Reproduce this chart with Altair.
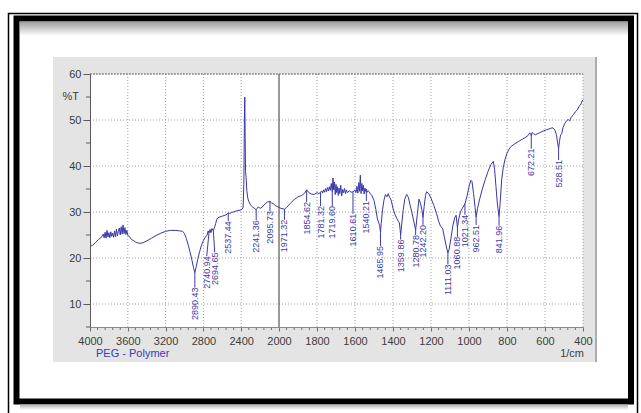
import altair as alt
import pandas as pd

# plot area size in pixels
W, H = 493, 253

# FTIR spectrum of PEG (wavenumber in 1/cm, transmittance in %T)
wavenumber = [
    4000, 3970, 3940, 3910, 3880, 3860, 3850, 3840, 3830, 3820, 3810, 3800,
    3790, 3780, 3770, 3760, 3750, 3740, 3730, 3720, 3710, 3700, 3690, 3680,
    3670, 3660, 3650, 3640, 3630, 3620, 3610, 3600, 3580, 3560, 3540, 3520,
    3500, 3470, 3440, 3400, 3350, 3300, 3250, 3200, 3150, 3100, 3050, 3020,
    3000, 2980, 2960, 2940, 2920, 2905, 2890.43, 2875, 2860, 2840, 2820, 2800,
    2780, 2760, 2750, 2740.94, 2730, 2720, 2710, 2694.65, 2680, 2670, 2660,
    2650, 2630, 2600, 2570, 2550, 2537.44, 2520, 2500, 2470, 2440, 2410, 2390,
    2380, 2372, 2366, 2362, 2358, 2354, 2348, 2340, 2330, 2320, 2300, 2280,
    2260, 2241.36, 2220, 2200, 2180, 2160, 2140, 2120, 2095.73, 2080, 2060,
    2040, 2020, 2000,
    1990, 1971.32, 1960, 1940, 1920, 1900, 1880, 1865, 1854.62, 1845, 1830,
    1815, 1800, 1790, 1781.32, 1775, 1770, 1765, 1760, 1755, 1750, 1745, 1740,
    1735, 1730, 1725, 1719.60, 1716, 1712, 1708, 1704, 1700, 1696, 1692, 1688,
    1684, 1680, 1675, 1670, 1665, 1660, 1655, 1650, 1645, 1640, 1630, 1620,
    1610.61, 1600, 1595, 1590, 1585, 1580, 1576, 1572, 1568, 1564, 1560, 1556,
    1552, 1548, 1544, 1540.21, 1535, 1530, 1525, 1520, 1510, 1500, 1490, 1482,
    1476, 1470, 1465.95, 1462, 1455, 1448, 1440, 1432, 1425, 1418, 1410, 1400,
    1390, 1380, 1372, 1366, 1359.86, 1353, 1346, 1338, 1328, 1319, 1310, 1300,
    1290, 1280.78, 1272, 1263, 1255, 1248, 1242.20, 1236, 1229, 1223, 1212,
    1200, 1185, 1170, 1160, 1150, 1144, 1138, 1130, 1120, 1111.03, 1105, 1095,
    1085, 1075, 1068, 1063, 1060.88, 1055, 1045, 1035, 1021.34, 1010, 1000,
    990, 984, 976, 968, 962.51, 955, 945, 930, 915, 900, 885, 872, 865, 858,
    850, 841.96, 836, 828, 820, 810, 800, 790, 780, 760, 740, 720, 700, 690,
    680, 675, 672.21, 668, 660, 650, 630, 610, 590, 570, 558, 548, 540, 534,
    528.51, 524, 518, 512, 505, 495, 485, 478, 470, 462, 450, 440, 430, 420,
    410, 405, 400,
]
transmittance = [
    22.5, 22.8, 23.4, 24.0, 24.5, 25.2, 24.4, 25.6, 24.3, 26.0, 24.6, 25.5,
    24.4, 25.7, 24.7, 25.4, 24.5, 25.9, 24.6, 26.3, 24.8, 25.8, 26.5, 25.0,
    26.8, 25.2, 27.2, 25.3, 26.6, 25.1, 26.0, 24.9, 24.6, 24.0, 23.8, 23.5,
    23.3, 23.2, 23.3, 23.7, 24.3, 24.9, 25.4, 25.8, 26.0, 26.0, 25.9, 25.8,
    25.3, 24.2, 22.8, 21.2, 19.4, 17.9, 16.8, 18.2, 19.7, 21.4, 22.8, 23.8,
    24.5, 25.0, 25.9, 25.4, 26.2, 25.5, 26.4, 25.9, 26.8, 27.5, 28.3,
    28.7, 28.9, 29.1, 29.3, 29.5, 29.8, 29.7, 29.9, 30.1, 30.3, 30.4, 30.6,
    31.0, 36.0, 50.0, 55.0, 46.0, 38.8, 37.5, 34.5, 33.0, 32.3, 31.5, 31.1,
    30.8, 30.5, 31.1, 30.8, 31.0, 31.5, 31.9, 32.2, 32.3, 32.0, 31.8,
    31.4, 31.2, 31.0,
    30.8, 30.6, 31.0, 31.9, 32.7, 33.3, 33.6, 34.1, 34.8, 34.3, 33.9,
    33.8, 34.2, 34.0, 34.3, 34.6, 34.1, 34.8, 34.3, 35.1, 34.4, 35.3, 34.6,
    35.5, 34.7, 36.2, 34.4, 37.4, 34.8, 36.5, 33.8, 36.0, 34.2, 35.5, 33.6,
    35.2, 34.0, 35.8, 33.5, 34.9, 34.2, 35.1, 34.0, 34.8, 34.2, 34.6, 34.3,
    34.4, 34.8, 34.2, 35.6, 34.1, 36.4, 34.5, 38.0, 34.0, 36.2, 34.6, 35.8,
    33.9, 35.2, 34.5, 35.0, 34.3, 34.6, 34.4, 34.0, 33.5, 32.5, 30.5, 28.5,
    27.8, 27.0, 25.6, 27.5, 30.5, 32.5, 33.8, 33.3, 34.0, 33.2, 32.6, 30.8,
    29.5, 28.6, 28.0, 27.6, 25.0, 27.8, 30.5, 32.8, 33.8, 33.2, 31.5, 29.8,
    27.8, 26.1, 29.5, 32.8, 31.8, 30.5, 28.8, 31.2, 33.6, 34.4, 34.0,
    33.0, 31.4, 29.6, 28.0, 26.9, 26.7, 26.3, 24.6, 22.6, 21.1, 21.8, 24.3,
    27.0, 28.8, 29.3, 27.5, 26.6, 28.3, 30.0, 30.8, 31.8, 33.5, 35.5,
    36.9, 36.6, 34.0, 31.0, 28.9, 30.8, 32.6, 35.0, 37.0, 38.8, 40.3, 41.0, 39.2, 35.5,
    31.5, 29.0, 32.0, 37.0, 39.6, 41.5, 42.8, 43.6, 44.2, 44.8, 45.3, 45.8, 46.3, 46.6,
    47.2, 47.0, 46.5, 47.3, 47.0, 46.8, 47.2, 47.6, 47.9, 48.2, 48.3, 47.8, 46.8, 45.2,
    43.8, 45.3, 46.8, 47.0, 48.4, 49.3, 49.9, 50.1, 49.8, 50.6, 51.2, 51.8, 52.2, 53.0,
    53.5, 54.1, 54.4,
]

# labelled bands: text, band position, %T at the band, label anchor position and top
peak_text = [
    "2890.43", "2740.94", "2694.65", "2537.44", "2241.36", "2095.73", "1971.32",
    "1854.62", "1781.32", "1719.60", "1610.61", "1540.21", "1465.95", "1359.86",
    "1280.78", "1242.20", "1111.03", "1060.88", "1021.34", "962.51", "841.96",
    "672.21", "528.51",
]
peak_wn = [
    2890.43, 2740.94, 2694.65, 2537.44, 2241.36, 2095.73, 1971.32,
    1854.62, 1781.32, 1719.60, 1610.61, 1540.21, 1465.95, 1359.86,
    1280.78, 1242.20, 1111.03, 1060.88, 1021.34, 962.51, 841.96,
    672.21, 528.51,
]
peak_t = [
    16.8, 25.4, 25.9, 29.8, 30.5, 32.3, 30.6,
    34.8, 34.3, 34.4, 34.4, 35.0, 25.6, 25.0,
    26.1, 28.8, 21.1, 26.6, 31.8, 28.9, 29.0,
    46.5, 43.8,
]
label_wn = [
    2890.43, 2765, 2680, 2537.44, 2241.36, 2095.73, 1971.32,
    1854.62, 1781.32, 1719.60, 1610.61, 1540.21, 1465.95, 1359.86,
    1280.78, 1242.20, 1111.03, 1060.88, 1021.34, 962.51, 841.96,
    672.21, 528.51,
]
label_top = [
    13.6, 20.4, 21.2, 28.0, 28.2, 30.2, 28.3,
    32.2, 31.3, 31.3, 29.6, 32.4, 22.6, 24.0,
    25.0, 27.2, 18.6, 24.6, 29.4, 27.2, 27.0,
    43.8, 41.3,
]

major_x = [4000, 3600, 3200, 2800, 2400, 2000, 1800, 1600, 1400, 1200,
           1000, 800, 600, 400]
major_y = [10, 20, 30, 40, 50, 60]
minor_x = [v for v in range(4000, 2000, -80) if v not in major_x] + \
          [v for v in range(2000, 400, -40) if v not in major_x]
minor_y = [5, 15, 25, 35, 45, 55]

BLUE = "#3636aa"
LABEL_BLUE = "#3a3aa8"
TEXT = "#3c3c3c"
FONT = "Liberation Sans"

spectrum = pd.DataFrame({"wn": wavenumber, "t": transmittance})
peaks = pd.DataFrame({"text": peak_text, "wn": peak_wn, "t": peak_t,
                      "lwn": label_wn, "ltop": label_top})
grid_x = pd.DataFrame({"wn": [v for v in major_x if v not in (4000, 2000)]})
grid_y = pd.DataFrame({"t": major_y})
minor_x_df = pd.DataFrame({"wn": minor_x})
minor_y_df = pd.DataFrame({"t": minor_y})
one = pd.DataFrame({"k": [0]})

# wavenumber axis is compressed above 2000 1/cm (piecewise linear)
xscale = alt.Scale(domain=[4000, 2000, 400], range=[0, 189, W], nice=False, zero=False)
yscale = alt.Scale(domain=[5, 60], nice=False, zero=False)

xaxis = alt.Axis(values=major_x, format="d", title=None, grid=False,
                 tickSize=4, tickColor="#707070", domainColor="#8a8a8a",
                 labelFont=FONT, labelFontSize=11, labelColor=TEXT,
                 labelPadding=4, labelFlush=False, labelOverlap=False, zindex=1)
yaxis = alt.Axis(values=major_y, format="d", title=None, grid=False,
                 tickSize=7, tickColor="#5a5a5a", domainColor="#5a5a5a",
                 labelFont=FONT, labelFontSize=11, labelColor=TEXT,
                 labelPadding=2, zindex=1)


def X(field):
    return alt.X(f"{field}:Q", scale=xscale, axis=xaxis)


def Y(field):
    return alt.Y(f"{field}:Q", scale=yscale, axis=yaxis)


def box(x0, x1, y0, y1, **kw):
    return alt.Chart(one).mark_rect(**kw).encode(
        x=alt.value(x0), x2=alt.value(x1), y=alt.value(y0), y2=alt.value(y1))


# page frame, window panel and white plotting area
outer_line = box(-81.5, 547.5, -60.5, 350, fillOpacity=0, stroke="black", strokeWidth=1.5)
thick_line = box(-73.5, 541, -55.5, 327.5, fillOpacity=0, stroke="black", strokeWidth=6)
shade = box(-70, 538, -52, -38, color=alt.Gradient(
    gradient="linear", x1=0, x2=0, y1=0, y2=1,
    stops=[alt.GradientStop(color="#a0a0a0", offset=0),
           alt.GradientStop(color="#ffffff", offset=1)]))
bottom_shade = box(-70, 538, 330.5, 336, color=alt.Gradient(
    gradient="linear", x1=0, x2=0, y1=0, y2=1,
    stops=[alt.GradientStop(color="#b0b0b0", offset=0),
           alt.GradientStop(color="#ffffff", offset=1)]))
panel = box(-37, 507, -17, 288, color="#e4e4e4")
panel_edge = alt.Chart(one).mark_rule(color="#9a9a9a", strokeWidth=1.5).encode(
    x=alt.value(506), y=alt.value(-17), y2=alt.value(288))
plot_bg = box(0, W, 0, H, color="white")

vgrid = alt.Chart(grid_x).mark_rule(color="#a0a0a0", strokeDash=[1, 2], strokeWidth=1).encode(
    x=X("wn"), y=alt.value(0), y2=alt.value(H))
hgrid = alt.Chart(grid_y).mark_rule(color="#a0a0a0", strokeDash=[1, 2], strokeWidth=1).encode(
    y=Y("t"), x=alt.value(0), x2=alt.value(W))
top_edge = alt.Chart(one).mark_rule(color="#707070", strokeDash=[2, 1], strokeWidth=1).encode(
    y=alt.value(0), x=alt.value(0), x2=alt.value(W))
break_line = alt.Chart(one).mark_rule(color="#555555", strokeWidth=1.2).encode(
    x=alt.datum(2000, scale=xscale, axis=xaxis), y=alt.value(0), y2=alt.value(H))

xminor = alt.Chart(minor_x_df).mark_rule(color="#707070").encode(
    x=X("wn"), y=alt.value(H), y2=alt.value(H + 3))
yminor = alt.Chart(minor_y_df).mark_rule(color="#5a5a5a").encode(
    y=Y("t"), x=alt.value(-4), x2=alt.value(0))

line = alt.Chart(spectrum).transform_window(
    wn_order="row_number()").mark_line(color=BLUE, strokeWidth=1).encode(
    x=X("wn"), y=Y("t"), order="wn_order:Q")

connectors = alt.Chart(peaks).mark_rule(color=LABEL_BLUE, strokeWidth=1).encode(
    x=X("wn"), x2="lwn:Q", y=Y("t"), y2="ltop:Q")
labels = alt.Chart(peaks).mark_text(
    angle=270, align="right", baseline="middle", font=FONT, fontSize=9,
    color=LABEL_BLUE).encode(
    x=X("lwn"), y=Y("ltop"), text="text:N")

unit_t = alt.Chart(one).mark_text(text="%T", align="right", baseline="middle",
                                  font=FONT, fontSize=11, color=TEXT).encode(
    x=alt.value(-11), y=alt.value(23))
sample = alt.Chart(one).mark_text(text="PEG - Polymer", align="left", baseline="middle",
                                  font=FONT, fontSize=11, color="#3a3ab8").encode(
    x=alt.value(6), y=alt.value(280))
unit_x = alt.Chart(one).mark_text(text="1/cm", align="right", baseline="middle",
                                  font=FONT, fontSize=11, color=TEXT).encode(
    x=alt.value(W + 1), y=alt.value(280))

chart = alt.layer(
    outer_line, thick_line, shade, bottom_shade, panel, panel_edge, plot_bg,
    vgrid, hgrid, top_edge, break_line, xminor, yminor,
    line, connectors, labels, unit_t, sample, unit_x,
).properties(
    width=W, height=H,
    padding={"left": 90, "top": 74, "right": 58, "bottom": 86},
    autosize=alt.AutoSizeParams(type="none"),
    background="white",
).configure_view(stroke=None)

chart.save("out.html", embed_options={"renderer": "svg", "actions": False})
